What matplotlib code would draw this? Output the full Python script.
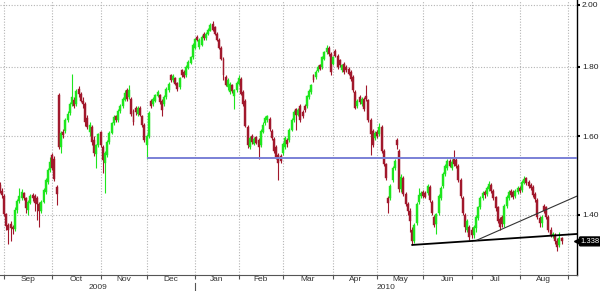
import matplotlib
matplotlib.use("Agg")
import matplotlib.pyplot as plt
import matplotlib.transforms as mtransforms
import numpy as np
import pandas as pd

plt.rcParams["font.family"] = ["Liberation Sans", "DejaVu Sans"]

# trading days (weekdays minus a few holidays)
holidays = ["2009-12-25", "2010-01-01", "2010-04-02", "2010-04-05"]
dates = pd.bdate_range("2009-08-28", "2010-08-27")
dates = dates[~dates.isin(pd.to_datetime(holidays))]

opens = [
    1.472, 1.458, 1.445, 1.402, 1.375, 1.377, 1.370, 1.366, 1.412, 1.432,
    1.440, 1.452, 1.440, 1.412, 1.428, 1.447, 1.445, 1.440, 1.425, 1.410,
    1.431, 1.455, 1.480, 1.511, 1.550, 1.540, 1.468, 1.716, 1.572, 1.612,
    1.615, 1.645, 1.665, 1.690, 1.702, 1.690, 1.735, 1.720, 1.700, 1.690,
    1.650, 1.612, 1.625, 1.590, 1.553, 1.575, 1.612, 1.572, 1.529, 1.550,
    1.585, 1.610, 1.635, 1.657, 1.645, 1.670, 1.685, 1.702, 1.731, 1.710,
    1.705, 1.670, 1.680, 1.662, 1.678, 1.655, 1.630, 1.575, 1.600, 1.700,
    1.690, 1.700, 1.712, 1.716, 1.700, 1.690, 1.710, 1.730, 1.775, 1.760,
    1.765, 1.752, 1.740, 1.790, 1.785, 1.775, 1.798, 1.812, 1.830, 1.860,
    1.895, 1.862, 1.870, 1.905, 1.890, 1.905, 1.915, 1.935, 1.925, 1.905,
    1.885, 1.860, 1.825, 1.770, 1.740, 1.725, 1.745, 1.712, 1.730, 1.750,
    1.762, 1.725, 1.700, 1.625, 1.572, 1.600, 1.580, 1.598, 1.590, 1.575,
    1.612, 1.635, 1.645, 1.648, 1.615, 1.592, 1.570, 1.550, 1.548, 1.555,
    1.570, 1.590, 1.590, 1.618, 1.645, 1.677, 1.660, 1.684, 1.668, 1.684,
    1.684, 1.710, 1.725, 1.776, 1.768, 1.788, 1.806, 1.800, 1.825, 1.845,
    1.858, 1.840, 1.810, 1.850, 1.835, 1.820, 1.790, 1.810, 1.800, 1.795,
    1.785, 1.770, 1.725, 1.685, 1.710, 1.690, 1.705, 1.712, 1.702, 1.645,
    1.615, 1.595, 1.612, 1.605, 1.625, 1.560, 1.525, 1.440, 1.440, 1.485,
    1.515, 1.590, 1.560, 1.462, 1.490, 1.450, 1.425, 1.410, 1.365, 1.340,
    1.380, 1.430, 1.445, 1.455, 1.452, 1.452, 1.468, 1.430, 1.395, 1.378,
    1.405, 1.440, 1.470, 1.500, 1.515, 1.535, 1.515, 1.540, 1.537, 1.520,
    1.485, 1.440, 1.400, 1.365, 1.370, 1.365, 1.352, 1.368, 1.392, 1.418,
    1.440, 1.455, 1.450, 1.462, 1.472, 1.458, 1.442, 1.418, 1.390, 1.395,
    1.378, 1.420, 1.440, 1.458, 1.455, 1.445, 1.455, 1.465, 1.460, 1.478,
    1.490, 1.480, 1.472, 1.468, 1.450, 1.435, 1.392, 1.380, 1.420, 1.418,
    1.395, 1.365, 1.350, 1.352, 1.340, 1.330, 1.345,
]
highs = [
    1.480, 1.465, 1.450, 1.405, 1.380, 1.385, 1.375, 1.418, 1.438, 1.465,
    1.462, 1.456, 1.443, 1.435, 1.450, 1.452, 1.450, 1.445, 1.430, 1.435,
    1.465, 1.490, 1.515, 1.545, 1.555, 1.548, 1.472, 1.722, 1.615, 1.620,
    1.650, 1.670, 1.695, 1.780, 1.710, 1.735, 1.742, 1.725, 1.710, 1.695,
    1.660, 1.640, 1.630, 1.600, 1.580, 1.610, 1.615, 1.575, 1.560, 1.590,
    1.615, 1.640, 1.660, 1.660, 1.675, 1.690, 1.710, 1.730, 1.738, 1.745,
    1.710, 1.675, 1.685, 1.685, 1.683, 1.660, 1.635, 1.605, 1.670, 1.705,
    1.710, 1.720, 1.730, 1.720, 1.705, 1.715, 1.740, 1.755, 1.780, 1.778,
    1.770, 1.755, 1.770, 1.795, 1.790, 1.805, 1.820, 1.835, 1.875, 1.890,
    1.900, 1.890, 1.900, 1.910, 1.910, 1.922, 1.938, 1.946, 1.930, 1.910,
    1.890, 1.865, 1.830, 1.775, 1.765, 1.755, 1.750, 1.735, 1.758, 1.775,
    1.768, 1.730, 1.705, 1.630, 1.600, 1.605, 1.598, 1.600, 1.595, 1.620,
    1.638, 1.655, 1.660, 1.652, 1.620, 1.598, 1.575, 1.555, 1.552, 1.585,
    1.600, 1.595, 1.622, 1.650, 1.672, 1.680, 1.680, 1.690, 1.672, 1.690,
    1.716, 1.735, 1.750, 1.780, 1.790, 1.806, 1.810, 1.835, 1.850, 1.868,
    1.865, 1.845, 1.835, 1.855, 1.840, 1.825, 1.810, 1.815, 1.805, 1.800,
    1.790, 1.775, 1.730, 1.705, 1.715, 1.710, 1.710, 1.745, 1.705, 1.650,
    1.620, 1.615, 1.618, 1.635, 1.630, 1.565, 1.530, 1.445, 1.475, 1.520,
    1.540, 1.595, 1.565, 1.500, 1.495, 1.455, 1.430, 1.415, 1.370, 1.380,
    1.430, 1.465, 1.458, 1.460, 1.457, 1.475, 1.472, 1.435, 1.400, 1.405,
    1.450, 1.470, 1.505, 1.525, 1.540, 1.540, 1.538, 1.563, 1.542, 1.525,
    1.490, 1.445, 1.405, 1.390, 1.375, 1.370, 1.375, 1.400, 1.422, 1.445,
    1.458, 1.460, 1.470, 1.482, 1.478, 1.462, 1.445, 1.422, 1.395, 1.400,
    1.425, 1.448, 1.460, 1.462, 1.460, 1.462, 1.470, 1.470, 1.485, 1.496,
    1.494, 1.485, 1.477, 1.472, 1.455, 1.440, 1.398, 1.400, 1.425, 1.422,
    1.400, 1.370, 1.360, 1.358, 1.345, 1.360, 1.348,
]
lows = [
    1.452, 1.440, 1.398, 1.365, 1.332, 1.340, 1.355, 1.362, 1.405, 1.428,
    1.435, 1.435, 1.405, 1.400, 1.425, 1.433, 1.410, 1.388, 1.372, 1.405,
    1.428, 1.450, 1.475, 1.505, 1.510, 1.482, 1.423, 1.565, 1.555, 1.595,
    1.610, 1.640, 1.660, 1.685, 1.680, 1.685, 1.710, 1.695, 1.680, 1.628,
    1.620, 1.600, 1.575, 1.548, 1.515, 1.570, 1.570, 1.503, 1.453, 1.545,
    1.580, 1.605, 1.630, 1.640, 1.640, 1.665, 1.680, 1.700, 1.700, 1.705,
    1.655, 1.630, 1.660, 1.655, 1.655, 1.625, 1.585, 1.540, 1.595, 1.680,
    1.685, 1.695, 1.710, 1.690, 1.655, 1.685, 1.705, 1.725, 1.755, 1.755,
    1.745, 1.728, 1.735, 1.770, 1.765, 1.770, 1.795, 1.808, 1.825, 1.855,
    1.880, 1.855, 1.865, 1.885, 1.885, 1.900, 1.912, 1.915, 1.900, 1.880,
    1.855, 1.820, 1.760, 1.742, 1.730, 1.720, 1.722, 1.675, 1.725, 1.745,
    1.715, 1.685, 1.625, 1.568, 1.565, 1.580, 1.575, 1.578, 1.540, 1.570,
    1.608, 1.630, 1.640, 1.615, 1.590, 1.555, 1.540, 1.485, 1.528, 1.550,
    1.565, 1.570, 1.585, 1.614, 1.640, 1.617, 1.655, 1.640, 1.650, 1.668,
    1.680, 1.705, 1.720, 1.755, 1.764, 1.784, 1.790, 1.795, 1.820, 1.840,
    1.835, 1.775, 1.805, 1.830, 1.795, 1.800, 1.785, 1.780, 1.785, 1.775,
    1.758, 1.725, 1.675, 1.680, 1.690, 1.685, 1.670, 1.700, 1.640, 1.550,
    1.570, 1.590, 1.595, 1.600, 1.555, 1.520, 1.485, 1.405, 1.435, 1.480,
    1.510, 1.565, 1.455, 1.455, 1.445, 1.420, 1.400, 1.360, 1.330, 1.335,
    1.375, 1.425, 1.440, 1.440, 1.440, 1.448, 1.430, 1.400, 1.370, 1.355,
    1.400, 1.435, 1.465, 1.495, 1.510, 1.518, 1.510, 1.520, 1.515, 1.480,
    1.440, 1.400, 1.360, 1.360, 1.342, 1.345, 1.345, 1.360, 1.388, 1.414,
    1.435, 1.440, 1.445, 1.458, 1.452, 1.435, 1.410, 1.380, 1.365, 1.372,
    1.372, 1.415, 1.435, 1.443, 1.438, 1.440, 1.450, 1.452, 1.455, 1.474,
    1.472, 1.465, 1.460, 1.443, 1.430, 1.390, 1.370, 1.372, 1.405, 1.390,
    1.360, 1.348, 1.345, 1.333, 1.316, 1.325, 1.333,
]
closes = [
    1.458, 1.448, 1.402, 1.373, 1.365, 1.368, 1.366, 1.412, 1.432, 1.445,
    1.455, 1.440, 1.415, 1.430, 1.445, 1.440, 1.428, 1.425, 1.410, 1.431,
    1.460, 1.485, 1.511, 1.532, 1.516, 1.488, 1.450, 1.572, 1.609, 1.602,
    1.645, 1.662, 1.690, 1.710, 1.684, 1.728, 1.718, 1.700, 1.690, 1.640,
    1.625, 1.630, 1.585, 1.555, 1.575, 1.605, 1.575, 1.537, 1.555, 1.585,
    1.610, 1.635, 1.652, 1.645, 1.670, 1.685, 1.705, 1.722, 1.705, 1.730,
    1.662, 1.640, 1.668, 1.678, 1.660, 1.630, 1.590, 1.600, 1.665, 1.685,
    1.705, 1.716, 1.725, 1.695, 1.673, 1.710, 1.733, 1.750, 1.760, 1.772,
    1.750, 1.735, 1.765, 1.775, 1.770, 1.800, 1.815, 1.830, 1.870, 1.886,
    1.885, 1.885, 1.895, 1.890, 1.905, 1.918, 1.932, 1.918, 1.905, 1.885,
    1.860, 1.825, 1.775, 1.745, 1.760, 1.750, 1.728, 1.730, 1.752, 1.765,
    1.720, 1.690, 1.628, 1.575, 1.595, 1.585, 1.592, 1.583, 1.570, 1.615,
    1.632, 1.650, 1.655, 1.620, 1.595, 1.560, 1.545, 1.530, 1.533, 1.580,
    1.595, 1.578, 1.618, 1.645, 1.668, 1.660, 1.673, 1.645, 1.655, 1.673,
    1.712, 1.728, 1.745, 1.760, 1.785, 1.800, 1.795, 1.830, 1.845, 1.858,
    1.840, 1.785, 1.830, 1.835, 1.800, 1.806, 1.805, 1.786, 1.790, 1.780,
    1.762, 1.731, 1.680, 1.700, 1.695, 1.705, 1.675, 1.705, 1.645, 1.605,
    1.575, 1.610, 1.600, 1.625, 1.560, 1.525, 1.490, 1.428, 1.470, 1.515,
    1.535, 1.575, 1.462, 1.492, 1.450, 1.425, 1.408, 1.385, 1.338, 1.375,
    1.425, 1.448, 1.452, 1.446, 1.444, 1.470, 1.435, 1.405, 1.375, 1.402,
    1.445, 1.465, 1.500, 1.520, 1.535, 1.522, 1.532, 1.525, 1.520, 1.485,
    1.445, 1.405, 1.372, 1.385, 1.348, 1.352, 1.370, 1.395, 1.418, 1.440,
    1.452, 1.448, 1.465, 1.475, 1.458, 1.440, 1.415, 1.385, 1.372, 1.378,
    1.420, 1.443, 1.455, 1.448, 1.443, 1.458, 1.465, 1.458, 1.480, 1.488,
    1.478, 1.470, 1.465, 1.448, 1.438, 1.395, 1.380, 1.395, 1.410, 1.395,
    1.365, 1.352, 1.356, 1.338, 1.325, 1.345, 1.338,
]

# drawn lines (x in trading-day numbers, y in price)
resistance_level = 1.542
resistance_from = "2009-12-01"
support_x = [188, 263]
support_y = [1.330, 1.355]
channel_x = [217.5, 263]
channel_y = [1.341, 1.445]
last_label = "1.338"

yticks = [1.40, 1.60, 1.80, 2.00]

up_col = "#1ee61e"
down_col = "#a1182c"
grid_col = "#b4b4b4"
txt_col = "#333333"

o = np.array(opens)
h = np.array(highs)
l = np.array(lows)
c = np.array(closes)
assert len(dates) == len(c)
x = np.arange(len(c))
up = c >= o
cols = np.where(up, up_col, down_col)

fig = plt.figure(figsize=(6.0, 2.91), dpi=100)
ax = fig.add_axes([0, 16 / 291, 577 / 600, 275 / 291])

x_left, x_right = 0.18, 263.05
ax.set_yscale("log")
ax.set_ylim(1.2637, 2.017)
ax.set_xlim(x_left, x_right)

# month boundaries (first trading day of each month)
month_idx = []
month_names = []
prev = None
for i, d in enumerate(dates):
    if d.month != prev and i > 0:
        month_idx.append(i)
        month_names.append(d.strftime("%b"))
    prev = d.month
month_idx.append(len(dates) + 2)  # Sep 1 2010

for m in month_idx:
    ax.axvline(m, color=grid_col, lw=0.8, ls=(0, (1, 1.5)), zorder=0)
for yv in yticks:
    ax.axhline(yv, color=grid_col, lw=0.8, ls=(0, (1, 1.5)), zorder=0)

# candles
ax.vlines(x, l, h, colors=cols, lw=0.8, zorder=2)
ax.bar(x, np.abs(c - o), bottom=np.minimum(o, c), width=0.9, color=cols,
       edgecolor=cols, linewidth=0.3, zorder=3)

# horizontal level and trend lines
res_i = int(np.searchsorted(dates, pd.Timestamp(resistance_from)))
ax.hlines(resistance_level, res_i, x_right, color="#7a80d6", lw=1.4, zorder=4)
ax.plot(support_x, support_y, color="black", lw=1.3, zorder=5)
ax.plot(channel_x, channel_y, color="#333333", lw=0.8, zorder=5)

# axes styling
for s in ["left", "top"]:
    ax.spines[s].set_visible(False)
ax.spines["right"].set_color("black")
ax.spines["right"].set_linewidth(1.0)
ax.spines["bottom"].set_color("#555555")
ax.yaxis.tick_right()
ax.set_yticks(yticks)
ax.set_yticklabels(["%.2f" % v for v in yticks])
ax.minorticks_off()
ax.tick_params(axis="y", which="both", length=2.5, width=1.5, color="black",
               labelsize=6, pad=1, labelcolor="#222222")

ax.set_xticks(month_idx)
ax.set_xticklabels([])
ax.tick_params(axis="x", length=3, width=0.8, color="#555555")

# month and year labels under the axis
trans = mtransforms.blended_transform_factory(ax.transData, ax.transAxes)
for k, name in enumerate(month_names):
    mid = (month_idx[k] + month_idx[k + 1]) / 2
    ax.text(mid, -0.016, name, transform=trans, ha="center", va="center",
            fontsize=6, color=txt_col)

jan_i = month_idx[month_names.index("Jan")]
ax.text((x_left + jan_i) / 2, -0.044, "2009", transform=trans, ha="center",
        va="center", fontsize=6, color=txt_col)
ax.text((jan_i + x_right) / 2, -0.044, "2010", transform=trans, ha="center",
        va="center", fontsize=6, color=txt_col)
ax.plot([jan_i, jan_i], [-0.03, -0.06], transform=trans, color="#555555",
        lw=0.8, clip_on=False)

# last price tag
tag_trans = mtransforms.blended_transform_factory(ax.transAxes, ax.transData)
ax.plot([1.0], [c[-1]], transform=tag_trans, marker="<", ms=4, color="black",
        clip_on=False, zorder=6)
ax.annotate(last_label, xy=(1.0, c[-1]), xycoords=tag_trans,
            xytext=(2.5, 0), textcoords="offset points", ha="left",
            va="center", fontsize=5.5, color="white",
            bbox=dict(boxstyle="round,pad=0.12", fc="black", ec="black"))

fig.savefig("out.png", dpi=100)
